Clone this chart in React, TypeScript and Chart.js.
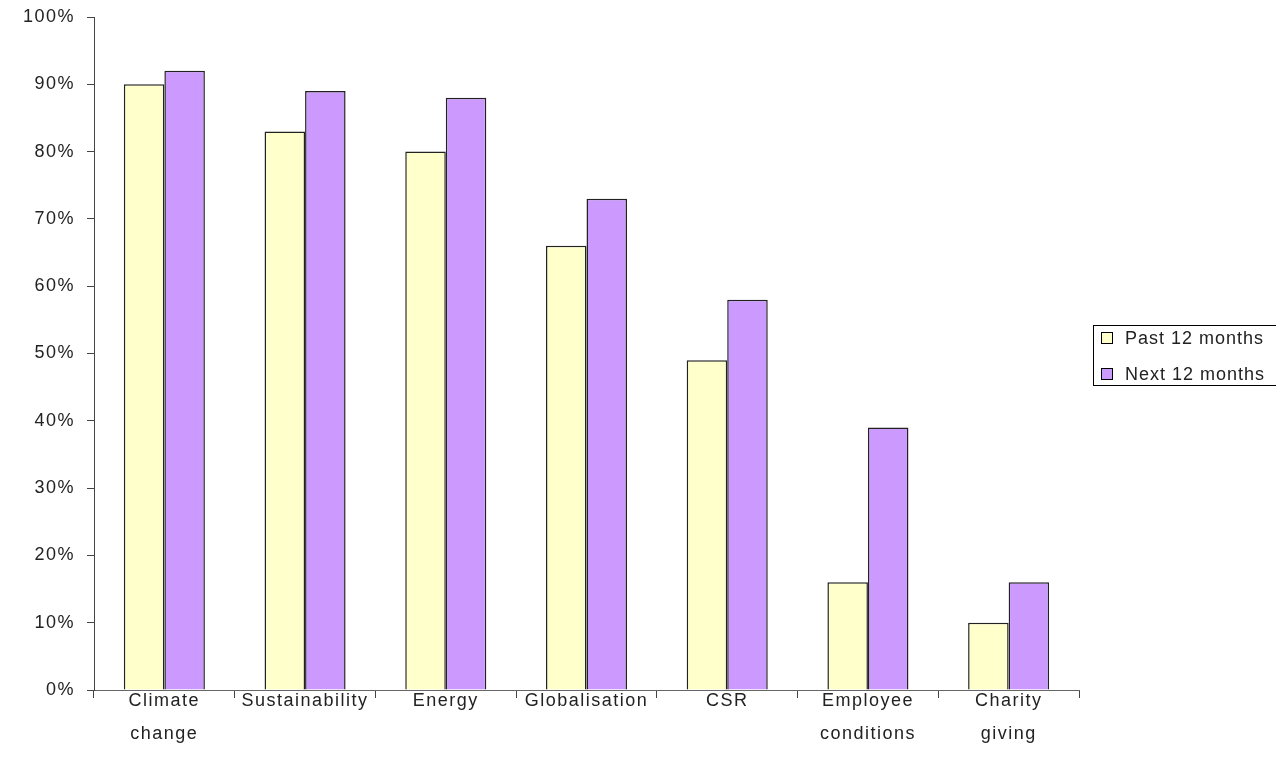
import React, { useEffect, useRef } from "react";
import { Chart, registerables } from "chart.js";

Chart.register(...registerables);

const categories: string[][] = [
  ["Climate", "change"],
  ["Sustainability"],
  ["Energy"],
  ["Globalisation"],
  ["CSR"],
  ["Employee", "conditions"],
  ["Charity", "giving"],
];
const seriesNames = ["Past 12 months", "Next 12 months"];
const pastValues = [90, 83, 80, 66, 49, 16, 10];
const nextValues = [92, 89, 88, 73, 58, 39, 16];
const seriesColors = ["#FFFFCC", "#CC99FF"];
const yTicks = [0, 10, 20, 30, 40, 50, 60, 70, 80, 90, 100];

const FONT = "'Liberation Sans', Arial, sans-serif";

const spacingPlugin = {
  id: "spacing",
  beforeDraw(chart: any) {
    (chart.ctx as any).letterSpacing = "1.5px";
  },
};

const legendPlugin = {
  id: "customLegend",
  afterDraw(chart: any) {
    const ctx = chart.ctx as CanvasRenderingContext2D;
    const area = chart.chartArea;
    const x0 = area.right + 14;
    const y0 = 325;
    ctx.save();
    (ctx as any).letterSpacing = "1px";
    ctx.strokeStyle = "#000000";
    ctx.lineWidth = 1;
    ctx.strokeRect(x0 + 0.5, y0 + 0.5, 300, 60);
    seriesNames.forEach((name, i) => {
      const cy = y0 + 13 + i * 36;
      ctx.fillStyle = seriesColors[i];
      ctx.fillRect(x0 + 8, cy - 6, 12, 12);
      ctx.strokeStyle = "#000";
      ctx.strokeRect(x0 + 8.5, cy - 5.5, 11, 11);
      ctx.fillStyle = "#222";
      ctx.font = `18px ${FONT}`;
      ctx.textBaseline = "middle";
      ctx.textAlign = "left";
      ctx.fillText(name, x0 + 32, cy + 1);
    });
    ctx.restore();
  },
};

export default function App() {
  const canvasRef = useRef<HTMLCanvasElement | null>(null);

  useEffect(() => {
    if (!canvasRef.current) return;
    const chart = new Chart(canvasRef.current, {
      type: "bar",
      data: {
        labels: categories,
        datasets: [
          {
            label: seriesNames[0],
            data: pastValues,
            backgroundColor: seriesColors[0],
            borderColor: "#222",
            borderWidth: 1.5,
            categoryPercentage: 0.576,
            barPercentage: 1,
          },
          {
            label: seriesNames[1],
            data: nextValues,
            backgroundColor: seriesColors[1],
            borderColor: "#222",
            borderWidth: 1.5,
            categoryPercentage: 0.576,
            barPercentage: 1,
          },
        ],
      },
      options: {
        animation: false,
        responsive: false,
        maintainAspectRatio: false,
        layout: { padding: { top: 17, right: 197, left: 0, bottom: 0 } },
        plugins: {
          legend: { display: false },
          tooltip: { enabled: false },
        },
        scales: {
          x: {
            offset: true,
            grid: {
              offset: true,
              drawOnChartArea: false,
              drawTicks: true,
              tickLength: 8,
              color: "#444",
            },
            border: { display: true, color: "#666", width: 1 },
            ticks: {
              color: "#222",
              font: { family: FONT, size: 18, lineHeight: 1.83 },
              maxRotation: 0,
              autoSkip: false,
              padding: -13,
            },
            afterFit(scale: any) {
              scale.height = 84;
              scale.paddingLeft = 0;
              scale.paddingRight = 0;
            },
          },
          y: {
            min: 0,
            max: 100,
            afterBuildTicks(scale: any) {
              scale.ticks = yTicks.map((v) => ({ value: v }));
            },
            grid: {
              drawOnChartArea: false,
              drawTicks: true,
              tickLength: 7,
              color: "#444",
            },
            border: { display: true, color: "#444", width: 1 },
            ticks: {
              color: "#222",
              font: { family: FONT, size: 18 },
              padding: 12,
              callback: (v: any) => `${v}%`,
            },
            afterFit(scale: any) {
              scale.width = 94;
              scale.paddingTop = 0;
              scale.paddingBottom = 0;
            },
          },
        },
      },
      plugins: [spacingPlugin, legendPlugin],
    });
    return () => chart.destroy();
  }, []);

  return (
    <div style={{ position: "fixed", left: 0, top: 0, width: 1276, height: 774, background: "#fff" }}>
      <canvas ref={canvasRef} width={1276} height={774} style={{ display: "block" }} />
    </div>
  );
}
